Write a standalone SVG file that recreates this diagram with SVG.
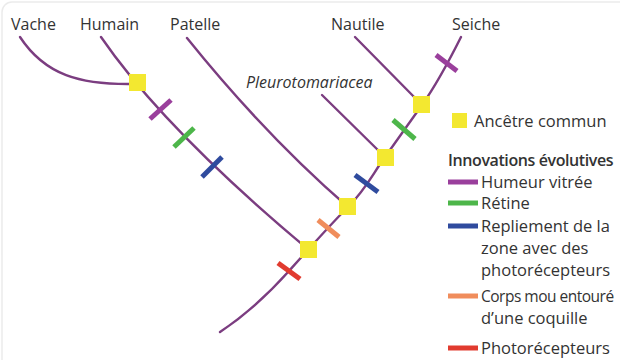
<svg xmlns="http://www.w3.org/2000/svg" width="620" height="360" viewBox="0 0 620 360">
<style>
.lbl{font-family:"Open Sans","Liberation Sans",sans-serif;font-size:16px;fill:#333;}
.leg{font-family:"Open Sans","Liberation Sans",sans-serif;font-size:16.5px;fill:#333;}
.ital{font-style:italic;}
.br{fill:none;stroke:#7b3d80;stroke-width:2.4;stroke-linecap:round;}
.mk{stroke-width:5;stroke-linecap:butt;}
.anc{fill:#f3e830;}
.pu{stroke:#9a3f9c;}
.gr{stroke:#4db64a;}
.bl{stroke:#2f4b9e;}
.or{stroke:#f08d5c;}
.rd{stroke:#e13b2f;}
</style>
<rect x="2" y="2" width="640" height="380" rx="10" fill="#fff" stroke="#ebebeb" stroke-width="1.5"/>
<g id="connectors">
<path class="br" d="M20,37 C45,75 80,85 134,84"/>
<path class="br" d="M101,37 Q165,130 309,250"/>
<path class="br" d="M187,38 Q265,135 348,207"/>
<path class="br" d="M322,95 L385,157"/>
<path class="br" d="M355,37 L422,105"/>
<path class="br" d="M220,332 C250,312 272,290 289,271 S330,225 348,207 S372,175 385,157 S410,122 422,105 S452,55 461,37"/>
</g>
<g id="marks">
<line class="mk pu" x1="150" y1="119" x2="171" y2="100"/>
<line class="mk gr" x1="174" y1="147" x2="194" y2="128"/>
<line class="mk bl" x1="202" y1="177" x2="222" y2="157"/>
<line class="mk rd" x1="278" y1="263" x2="300" y2="279"/>
<line class="mk or" x1="318" y1="220" x2="339" y2="237"/>
<line class="mk bl" x1="355" y1="175" x2="378" y2="192"/>
<line class="mk gr" x1="393" y1="120" x2="415" y2="139"/>
<line class="mk pu" x1="436" y1="55" x2="457" y2="71"/>
</g>
<g id="ancestor-vache-humain"><rect class="anc" x="129" y="74" width="17" height="17"/></g>
<g id="ancestor-root"><rect class="anc" x="300" y="241" width="17" height="17"/></g>
<g id="ancestor-patelle"><rect class="anc" x="339" y="198" width="17" height="17"/></g>
<g id="ancestor-pleuro"><rect class="anc" x="377" y="149" width="17" height="17"/></g>
<g id="ancestor-nautile"><rect class="anc" x="413" y="96" width="17" height="17"/></g>
<g id="taxa">
<text class="lbl" x="11" y="30">Vache</text>
<text class="lbl" x="80" y="30">Humain</text>
<text class="lbl" x="170" y="30">Patelle</text>
<text class="lbl" x="331" y="30">Nautile</text>
<text class="lbl" x="452" y="30">Seiche</text>
<text class="lbl ital" x="246" y="88">Pleurotomariacea</text>
</g>
<g id="legend">
<rect class="anc" x="452" y="113" width="15" height="15"/>
<text class="leg" x="474" y="127">Ancêtre commun</text>
<text class="leg" x="448" y="166" style="font-weight:600;font-size:16px;letter-spacing:-0.4px">Innovations évolutives</text>
<line class="mk pu" x1="448" y1="182" x2="478" y2="182"/>
<text class="leg" x="481" y="188">Humeur vitrée</text>
<line class="mk gr" x1="448" y1="203" x2="478" y2="203"/>
<text class="leg" x="481" y="209">Rétine</text>
<line class="mk bl" x1="448" y1="226" x2="478" y2="226"/>
<text class="leg" x="481" y="232">Repliement de la</text>
<text class="leg" x="481" y="254">zone avec des</text>
<text class="leg" x="481" y="276">photorécepteurs</text>
<line class="mk or" x1="448" y1="296" x2="478" y2="296"/>
<text class="leg" x="481" y="302" style="font-size:15.5px;letter-spacing:-0.5px">Corps mou entouré</text>
<text class="leg" x="481" y="324">d’une coquille</text>
<line class="mk rd" x1="448" y1="348" x2="478" y2="348"/>
<text class="leg" x="481" y="354">Photorécepteurs</text>
</g>
</svg>
